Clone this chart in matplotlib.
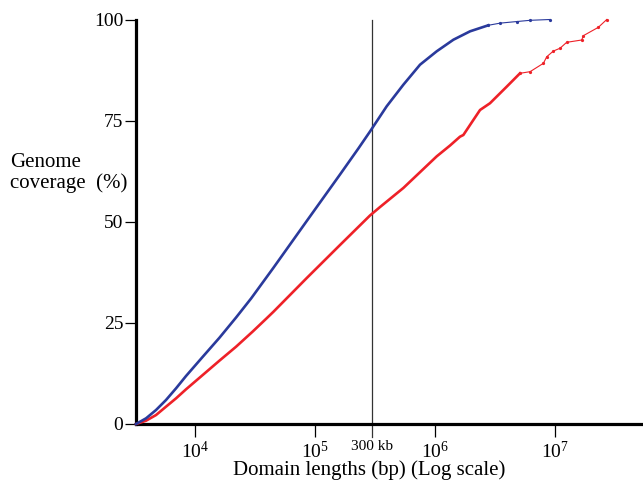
import numpy as np
import matplotlib.pyplot as plt

plt.rcParams['font.family'] = 'Liberation Serif'
plt.rcParams['mathtext.fontset'] = 'custom'
plt.rcParams['mathtext.rm'] = 'Liberation Serif'

# ===== Data =====
# domain lengths kept as log10(bp); coverage in % of genome
blue_log_len = [3.508, 3.592, 3.675, 3.758, 3.842, 3.925, 4.064, 4.203, 4.342,
                4.467, 4.652, 4.931, 5.208, 5.361, 5.458, 5.597, 5.736, 5.875,
                6.014, 6.153, 6.292, 6.444]
blue_cov = [0, 1.41, 3.46, 5.93, 8.83, 11.87, 16.61, 21.31, 26.33,
            31.03, 38.57, 50.19, 61.68, 68.11, 72.31, 78.54, 83.88, 88.83,
            92.14, 95.0, 97.08, 98.57]
# sparse tail (drawn thin with dots)
blue_tail_log_len = [6.444, 6.542, 6.683, 6.792, 6.958]
blue_tail_cov = [98.57, 99.1, 99.5, 99.8, 100]

red_log_len = [3.508, 3.592, 3.675, 3.758, 3.842, 3.925, 4.064, 4.203, 4.342,
               4.481, 4.592, 4.653, 4.931, 5.208, 5.458, 5.542, 5.736, 6.014,
               6.125, 6.208, 6.236, 6.319, 6.375, 6.458, 6.597, 6.708]
red_cov = [0, 0.82, 2.22, 4.28, 6.35, 8.58, 12.11, 15.65, 19.11,
           22.87, 26.0, 27.74, 36.09, 44.25, 51.55, 53.65, 58.35, 66.17,
           68.85, 71.03, 71.45, 75.15, 77.63, 79.3, 83.39, 86.7]
red_tail_log_len = [6.708, 6.792, 6.903, 6.931, 6.986, 7.042, 7.097, 7.222,
                    7.236, 7.361, 7.431]
red_tail_cov = [86.7, 87.1, 89.17, 90.8, 92.2, 92.9, 94.36, 94.93,
                96.0, 98.07, 100]

xticks = [1e4, 1e5, 1e6, 1e7]
xtick_labels = [r'$\mathregular{10^{4}}$', r'$\mathregular{10^{5}}$',
                r'$\mathregular{10^{6}}$', r'$\mathregular{10^{7}}$']
yticks = [0, 25, 50, 75, 100]
cutoff = 3e5

BLUE = '#2a3a9c'
RED = '#ee2128'

fig = plt.figure(figsize=(6.43, 4.84), dpi=100)
ax = fig.add_axes([136 / 643, 60 / 484, 507 / 643, 404.5 / 484])

def bp(v):
    return 10 ** np.array(v)

ax.plot(bp(red_log_len), red_cov, color=RED, lw=1.9, clip_on=False, zorder=3)
ax.plot(bp(red_tail_log_len), red_tail_cov, color=RED, lw=0.8, marker='o',
        ms=1.3, clip_on=False, zorder=3)
ax.plot(bp(blue_log_len), blue_cov, color=BLUE, lw=1.9, clip_on=False, zorder=4)
ax.plot(bp(blue_tail_log_len), blue_tail_cov, color=BLUE, lw=0.8, marker='o',
        ms=1.3, clip_on=False, zorder=4)

# 300 kb cut-off line
ax.plot([cutoff, cutoff], [-3.2, 100], color='#333333', lw=0.9,
        clip_on=False, zorder=2)
ax.text(cutoff, -4.0, '300 kb', ha='center', va='top', fontsize=11)

ax.set_xscale('log')
ax.set_xlim(10 ** 3.508, 10 ** 7.733)
ax.set_ylim(0, 100)
ax.minorticks_off()
ax.set_xticks(xticks)
ax.set_xticklabels(xtick_labels, fontsize=14)
ax.set_yticks(yticks)
ax.set_yticklabels([str(v) for v in yticks], fontsize=14)

for s in ['top', 'right']:
    ax.spines[s].set_visible(False)
ax.spines['left'].set_linewidth(2.3)
ax.spines['bottom'].set_linewidth(2.3)
ax.tick_params(axis='x', length=9, width=0.9, pad=3, direction='out')
ax.tick_params(axis='y', length=8, width=0.9, pad=1, direction='out')

fig.text(369 / 643, 1 - 470 / 484, 'Domain lengths (bp) (Log scale)',
         ha='center', va='center', fontsize=15)
fig.text(10 / 643, 1 - 173 / 484, 'Genome\ncoverage  (%)',
         ha='left', va='center', fontsize=15, linespacing=1.1)

plt.savefig('out.png', dpi=100)
